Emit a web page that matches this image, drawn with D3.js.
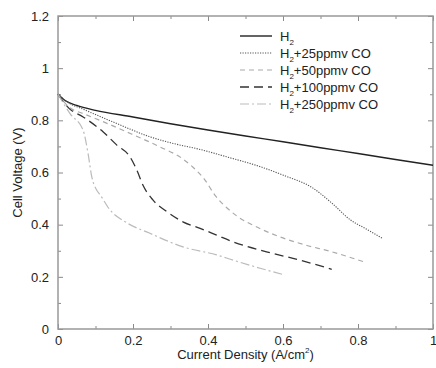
<!DOCTYPE html>
<head>
<meta charset="utf-8">
<script src="https://d3js.org/d3.v7.min.js"></script>
<style>
body { margin:0; background:#fff; }
text { font-family: "Liberation Sans", Arial, sans-serif; fill:#222; }
</style>
</head>
<body>
<script>

// current density (A/cm2) and cell voltage (V)
var h2X = [0,0.02,0.05,0.1,0.2,0.3,0.4,0.5,0.6,0.7,0.8,0.9,1.0];
var h2V = [0.9,0.875,0.857,0.838,0.813,0.787,0.763,0.74,0.718,0.695,0.673,0.65,0.628];

var co25X = [0,0.03,0.06,0.1,0.15,0.245,0.3,0.38,0.45,0.54,0.6,0.68,0.73,0.78,0.82,0.866];
var co25V = [0.9,0.865,0.847,0.822,0.792,0.737,0.714,0.688,0.66,0.622,0.59,0.54,0.483,0.418,0.385,0.347];

var co50X = [0,0.03,0.067,0.12,0.173,0.272,0.33,0.36,0.39,0.42,0.45,0.48,0.52,0.59,0.66,0.73,0.823];
var co50V = [0.9,0.85,0.826,0.795,0.762,0.698,0.655,0.62,0.575,0.51,0.465,0.43,0.398,0.354,0.322,0.296,0.254];

var co100X = [0,0.03,0.067,0.12,0.157,0.192,0.21,0.227,0.253,0.29,0.333,0.379,0.423,0.467,0.556,0.645,0.73];
var co100V = [0.9,0.845,0.813,0.756,0.705,0.66,0.61,0.55,0.495,0.45,0.411,0.386,0.36,0.334,0.296,0.264,0.229];

var co250X = [0,0.032,0.067,0.08,0.09,0.103,0.112,0.139,0.179,0.245,0.333,0.423,0.467,0.539,0.605];
var co250V = [0.9,0.826,0.762,0.674,0.584,0.533,0.515,0.456,0.411,0.367,0.315,0.284,0.264,0.233,0.207];

var seriesNames = ["H2", "+25ppmv CO", "+50ppmv CO", "+100ppmv CO", "+250ppmv CO"];

var xMajor = [0,0.2,0.4,0.6,0.8,1];
var xMinor = [0.1,0.3,0.5,0.7,0.9];
var yMajor = [0,0.2,0.4,0.6,0.8,1,1.2];
var yMinor = [0.1,0.3,0.5,0.7,0.9,1.1];

var width = 436, height = 368;
var pLeft = 58, pRight = 433, pTop = 16, pBottom = 329;

var svg = d3.select("body").append("svg")
    .attr("width", width)
    .attr("height", height);

var x = d3.scaleLinear().domain([0, 1]).range([pLeft, pRight]);
var y = d3.scaleLinear().domain([0, 1.2]).range([pBottom, pTop]);

var fmt = function(d) { return String(+d.toFixed(1)); };

function styleAxis(g) {
  g.select(".domain").remove();
  g.selectAll(".tick line").attr("stroke", "#8a8a8a").attr("stroke-width", 1);
  g.selectAll(".tick text").attr("font-size", 13).attr("fill", "#222")
    .style("font-family", "'Liberation Sans', Arial, sans-serif");
}

svg.append("g").attr("transform", "translate(0," + pBottom + ")")
    .call(d3.axisBottom(x).tickValues(xMajor).tickSize(-5).tickPadding(7).tickFormat(fmt))
    .call(styleAxis);
svg.append("g").attr("transform", "translate(0," + pBottom + ")")
    .call(d3.axisBottom(x).tickValues(xMinor).tickSize(-3).tickFormat(""))
    .call(styleAxis);
svg.append("g").attr("transform", "translate(0," + pTop + ")")
    .call(d3.axisTop(x).tickValues(xMajor).tickSize(-5).tickFormat(""))
    .call(styleAxis);
svg.append("g").attr("transform", "translate(0," + pTop + ")")
    .call(d3.axisTop(x).tickValues(xMinor).tickSize(-3).tickFormat(""))
    .call(styleAxis);
svg.append("g").attr("transform", "translate(" + pLeft + ",0)")
    .call(d3.axisLeft(y).tickValues(yMajor).tickSize(-5).tickPadding(9).tickFormat(fmt))
    .call(styleAxis);
svg.append("g").attr("transform", "translate(" + pLeft + ",0)")
    .call(d3.axisLeft(y).tickValues(yMinor).tickSize(-3).tickFormat(""))
    .call(styleAxis);
svg.append("g").attr("transform", "translate(" + pRight + ",0)")
    .call(d3.axisRight(y).tickValues(yMajor).tickSize(-5).tickFormat(""))
    .call(styleAxis);
svg.append("g").attr("transform", "translate(" + pRight + ",0)")
    .call(d3.axisRight(y).tickValues(yMinor).tickSize(-3).tickFormat(""))
    .call(styleAxis);

svg.append("rect")
    .attr("x", pLeft).attr("y", pTop)
    .attr("width", pRight - pLeft).attr("height", pBottom - pTop)
    .attr("fill", "none").attr("stroke", "#999").attr("stroke-width", 1.5);

var series = [
  {xs: h2X, vs: h2V, color: "#222", width: 1.4, dash: null},
  {xs: co25X, vs: co25V, color: "#555", width: 1.1, dash: "1.2,1.3"},
  {xs: co50X, vs: co50V, color: "#aaa", width: 1.2, dash: "5,4"},
  {xs: co100X, vs: co100V, color: "#333", width: 1.3, dash: "9,5"},
  {xs: co250X, vs: co250V, color: "#bbb", width: 1.2, dash: "9,3,2,3"}
];

var line = d3.line()
    .x(function(d) { return x(d[0]); })
    .y(function(d) { return y(d[1]); })
    .curve(d3.curveMonotoneX);

svg.append("g").selectAll("path")
  .data(series)
  .enter().append("path")
    .attr("d", function(s) { return line(d3.zip(s.xs, s.vs)); })
    .attr("fill", "none")
    .attr("stroke", function(s) { return s.color; })
    .attr("stroke-width", function(s) { return s.width; })
    .attr("stroke-dasharray", function(s) { return s.dash; });

// legend
var legend = svg.append("g").selectAll("g")
  .data(series)
  .enter().append("g")
    .attr("transform", function(d, i) { return "translate(240," + (36 + i * 17) + ")"; });

legend.append("line")
    .attr("x1", 0).attr("x2", 32)
    .attr("stroke", function(s) { return s.color; })
    .attr("stroke-width", function(s) { return s.width; })
    .attr("stroke-dasharray", function(s) { return s.dash; });

var lt = legend.append("text")
    .attr("x", 40).attr("y", 5)
    .attr("font-size", 13);
lt.append("tspan").text("H");
lt.append("tspan").attr("font-size", 8).attr("dy", 4).text("2");
lt.append("tspan").attr("dy", -4).text(function(d, i) { return i === 0 ? "" : seriesNames[i]; });

// axis titles
var xt = svg.append("text")
    .attr("x", (pLeft + pRight) / 2).attr("y", 359)
    .attr("text-anchor", "middle").attr("font-size", 13);
xt.append("tspan").text("Current Density (A/cm");
xt.append("tspan").attr("font-size", 8).attr("dy", -6).text("2");
xt.append("tspan").attr("dy", 6).text(")");

svg.append("text")
    .attr("transform", "translate(22," + (pTop + pBottom) / 2 + ") rotate(-90)")
    .attr("text-anchor", "middle").attr("font-size", 13)
    .text("Cell Voltage (V)");

</script>
</body>
